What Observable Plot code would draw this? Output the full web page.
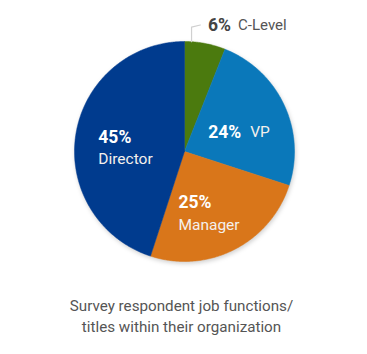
<!DOCTYPE html>
<html><head><meta charset="utf-8">
<script src="https://cdn.jsdelivr.net/npm/d3@7"></script>
<script src="https://cdn.jsdelivr.net/npm/@observablehq/plot@0.6"></script>
<style>
body{margin:0;background:#fff;font-family:Roboto,sans-serif}
#cap{width:363px;text-align:center;font-size:15.2px;color:#555;line-height:21px;margin-top:16px}
</style></head>
<body><div id="chart"></div><div id="cap"></div>
<script>
const categories = ["C-Level", "VP", "Manager", "Director"];
const shares = [6, 24, 25, 45];
const colors = ["#4b7a0e", "#0a78ba", "#d9761a", "#003b8e"];
const captionLines = ["Survey respondent job functions/", "titles within their organization"];

const arcs = d3.pie().sort(null).value(d => d)(shares);
const pt = (a, r) => ({x: r * Math.sin(a), y: r * Math.cos(a)});

const poly = [];
arcs.forEach((a, i) => {
  const name = categories[i];
  poly.push({name, ...pt(0, 0)});
  const n = Math.max(4, Math.ceil((a.endAngle - a.startAngle) / 0.01));
  for (let k = 0; k <= n; k++) {
    const t = a.startAngle + (a.endAngle - a.startAngle) * k / n;
    poly.push({name, ...pt(t, 1)});
  }
  poly.push({name, ...pt(0, 0)});
});

const labels = arcs.map((a, i) => {
  const m = (a.startAngle + a.endAngle) / 2;
  return {name: categories[i], pct: shares[i] + "%", ...pt(m, 0.6)};
});
const offsets = {
  "Director": {pdx: -21, pdy: -4, ndx: -21, ndy: 18},
  "Manager": {pdx: -36, pdy: -8, ndx: -36, ndy: 15},
  "VP": {pdx: -36, pdy: 9, ndx: 6, ndy: 9}
};

// leader for C-Level
const c = arcs[0];
const a0 = c.startAngle + 0.17 * (c.endAngle - c.startAngle);
const p0 = pt(a0, 1);
const leader = [p0, {x: p0.x, y: 1.13}, {x: p0.x + 0.08, y: 1.15}];
const outLabel = [{x: p0.x + 0.15, y: 1.15, pct: shares[0] + "%", name: categories[0]}];

const marks = [
  Plot.line(poly, {x: "x", y: "y", z: "name", fill: "name", stroke: "name", strokeWidth: 0.5, curve: "linear"}),
  Plot.line(leader, {x: "x", y: "y", stroke: "#d0d0d0", strokeWidth: 1.2}),
  Plot.text(outLabel, {x: "x", y: "y", text: "pct", textAnchor: "start", fontWeight: "bold", fontSize: 17.5, fill: "#444"}),
  Plot.text(outLabel, {x: "x", y: "y", text: "name", textAnchor: "start", fontSize: 15, fill: "#555", dx: 30})
];
for (const k of Object.keys(offsets)) {
  const o = offsets[k];
  const d = labels.filter(l => l.name === k);
  marks.push(Plot.text(d, {x: "x", y: "y", text: "pct", textAnchor: "start", fontWeight: "bold", fontSize: 17.5, fill: "white", dx: o.pdx, dy: o.pdy}));
  marks.push(Plot.text(d, {x: "x", y: "y", text: "name", textAnchor: "start", fontSize: 15.5, fill: "#f4f0ec", dx: o.ndx, dy: o.ndy}));
}

const chart = Plot.plot({
  width: 367, height: 280, margin: 0,
  style: {fontFamily: "Roboto, sans-serif", background: "white"},
  x: {domain: [-1, 1], range: [74, 294], axis: null},
  y: {domain: [-1, 1], range: [261, 41], axis: null},
  color: {domain: categories, range: colors},
  marks
});
const g = chart.querySelector('g[aria-label="line"]');
if (g) g.style.filter = "drop-shadow(1px 2px 2px rgba(0,0,0,0.18))";
document.getElementById("chart").appendChild(chart);
document.getElementById("cap").innerHTML = captionLines.join("<br>");
</script>
</body></html>
